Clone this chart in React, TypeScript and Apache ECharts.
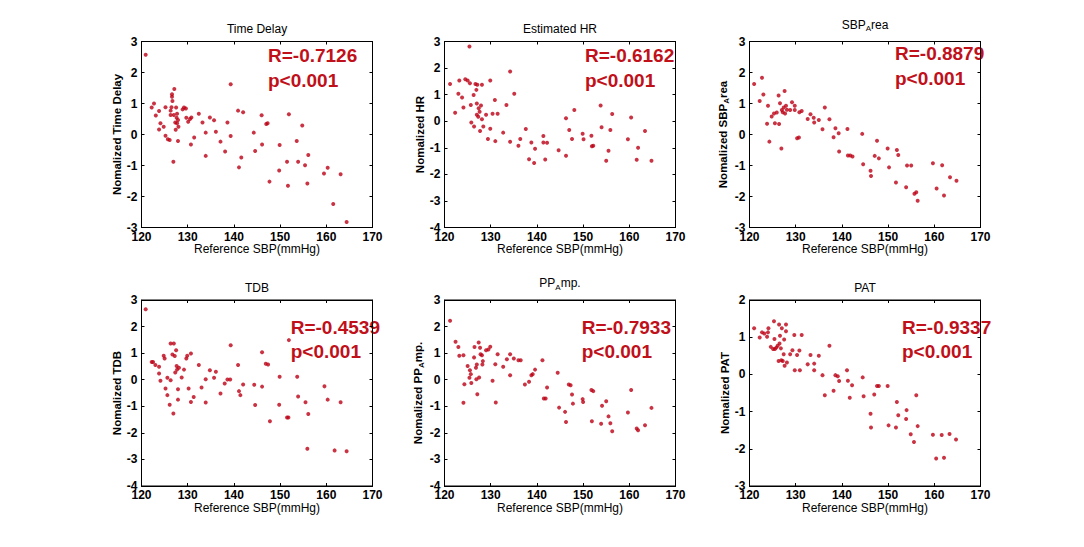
import React, { useEffect, useRef } from 'react';
import * as echarts from 'echarts';

const FONT = '"Liberation Sans", Arial, Helvetica, sans-serif';
const MARK = '#bb0014';
const RED_TEXT = '#c0101a';

const xMin = 120;
const xMax = 170;
const xStep = 10;

const titles = [
  '{n|Time Delay}',
  '{n|Estimated HR}',
  '{n|SBP}{s|A}{n|rea}',
  '{n|TDB}',
  '{n|PP}{s|A}{n|mp.}',
  '{n|PAT}',
];
const yNames = [
  '{n|Nomalized Time Delay}',
  '{n|Nomalized HR}',
  '{n|Nomalized SBP}{s|A}{n|rea}',
  '{n|Nomalized TDB}',
  '{n|Nomalized PP}{s|A}{n|mp.}',
  '{n|Nomalized PAT}',
];
const yMins = [-3, -4, -3, -4, -4, -3];
const yMaxs = [3, 3, 3, 3, 3, 2];
const rTexts = ['R=-0.7126', 'R=-0.6162', 'R=-0.8879', 'R=-0.4539', 'R=-0.7933', 'R=-0.9337'];
const pTexts = ['p<0.001', 'p<0.001', 'p<0.001', 'p<0.001', 'p<0.001', 'p<0.001'];

const timeDelay: [number, number][] = [
  [120.9, 2.57], [122.2, 0.87], [122.7, 1.0], [123.1, 0.61], [123.8, 0.76], [123.8, 0.16], [124.1, 0.36],
  [124.8, 0.25], [125.2, 0.88], [125.2, -0.04], [125.7, -0.15], [126.1, -0.18], [126.3, 0.77], [126.3, 0.63],
  [126.5, 0.88], [126.6, 1.22], [126.6, 1.3], [126.7, 1.08], [126.9, -0.88], [127.0, 0.63], [127.1, 1.47],
  [127.3, 0.39], [127.4, 0.15], [127.5, 0.87], [127.6, 0.54], [127.7, 0.36], [127.9, -0.21], [128.0, 0.25],
  [127.7, 0.67], [127.9, 0.47], [128.9, 0.81], [129.2, 0.87], [129.6, 0.84], [129.7, 0.54], [130.1, 0.41],
  [130.5, 0.5], [130.8, 0.55], [130.7, -0.32], [131.4, -0.1], [132.4, 0.67], [133.2, 0.39], [133.9, 0.06],
  [133.9, -0.69], [134.8, 0.55], [135.7, 0.46], [136.1, 0.09], [137.1, -0.23], [138.1, -0.55], [138.6, 0.39],
  [139.3, -0.05], [139.3, 1.62], [140.9, 0.77], [141.1, -1.06], [141.6, -0.74], [142.0, 0.72], [144.3, 0.06],
  [144.6, -0.53], [146.0, 0.62], [146.1, -0.32], [147.0, 0.34], [147.3, 0.36], [147.7, -1.52], [149.9, -0.34],
  [149.8, -1.16], [151.5, -0.88], [151.7, -1.65], [151.9, 0.65], [153.6, -0.21], [153.9, -0.88], [154.8, 0.29],
  [155.4, -0.99], [155.9, -1.58], [156.1, -0.66], [159.5, -1.26], [160.3, -1.07], [161.5, -2.24], [163.1, -1.28],
  [164.4, -2.82],
];

const estimatedHR: [number, number][] = [
  [121.2, 1.4], [122.3, 0.32], [123.0, 1.03], [123.2, 1.53], [123.8, 0.89], [124.1, 0.52], [124.5, 1.58],
  [125.0, 1.53], [125.4, 2.81], [125.5, 1.43], [125.7, 0.61], [125.8, -0.05], [126.3, 0.99], [126.4, -0.2],
  [126.7, 1.4], [126.9, 1.18], [127.0, 0.67], [127.0, 0.24], [127.3, 0.17], [127.4, 0.49], [127.6, 0.36],
  [127.7, -0.37], [127.9, 0.59], [128.1, 1.37], [128.1, 0.07], [127.1, 1.37], [128.4, -0.2], [129.0, 0.24],
  [129.4, -0.67], [129.9, -0.28], [129.9, 1.53], [130.4, 0.28], [130.9, 0.8], [131.0, -0.75], [131.5, 0.28],
  [132.7, -0.43], [133.4, 0.61], [134.2, -0.77], [134.2, 1.87], [135.1, 1.03], [136.0, -0.92], [136.4, -0.67],
  [137.6, -0.29], [138.3, -1.43], [138.8, -0.8], [139.4, -1.57], [139.6, -1.04], [141.4, -0.56], [141.4, -0.8],
  [141.8, -1.44], [142.2, -0.81], [144.7, -1.09], [146.3, 0.11], [146.3, -1.3], [147.0, -0.33], [147.6, -0.67],
  [148.1, 0.42], [149.9, -0.47], [150.1, -0.68], [151.8, -0.55], [151.9, -0.94], [152.2, -0.92], [153.8, 0.59],
  [154.0, -0.23], [155.0, -1.49], [155.5, -1.11], [155.9, -0.33], [156.3, 0.27], [159.7, -0.68], [160.4, 0.14],
  [161.6, -1.45], [161.9, -1.0], [163.4, -0.37], [164.8, -1.49],
];

const sbpArea: [number, number][] = [
  [121.0, 1.63], [122.2, 1.08], [122.7, 1.83], [123.0, 1.29], [123.8, 0.35], [124.0, 0.93], [124.3, -0.23],
  [124.8, 0.58], [125.3, 0.68], [125.5, 0.36], [125.9, 0.71], [126.3, 1.26], [126.4, 0.34], [126.6, 1.01],
  [126.9, -0.45], [127.0, 0.79], [127.2, 0.72], [127.4, 0.87], [127.6, 1.4], [127.7, 0.68], [127.9, 0.93],
  [128.1, 0.8], [128.8, 0.79], [129.2, 1.04], [129.8, 0.93], [129.8, 0.79], [130.3, -0.12], [130.7, -0.1],
  [130.8, 0.72], [131.3, 0.76], [132.6, 0.5], [133.2, 0.65], [133.9, 0.54], [134.0, 0.39], [135.0, 0.47],
  [135.8, 0.17], [136.3, 0.87], [137.3, 0.49], [138.2, -0.09], [138.6, 0.2], [139.3, 0.04], [139.4, -0.55],
  [141.2, 0.18], [141.3, -0.68], [141.8, -0.68], [142.3, -0.71], [144.4, 0.02], [144.6, -0.96], [146.2, -1.17],
  [146.3, -1.34], [147.1, -0.69], [147.6, -0.2], [148.0, -0.77], [149.9, -0.45], [150.2, -1.06], [151.7, -1.55],
  [151.9, -0.5], [152.2, -0.66], [153.9, -1.7], [154.1, -1.0], [155.0, -1.0], [155.7, -1.91], [156.1, -1.86],
  [156.4, -2.14], [159.7, -0.93], [160.5, -1.74], [161.7, -0.99], [162.1, -1.97], [163.4, -1.38], [164.8, -1.49],
];

const tdb: [number, number][] = [
  [120.9, 2.65], [122.2, 0.67], [122.5, 0.67], [123.0, 0.55], [123.8, 0.49], [123.8, 0.23], [124.1, -0.04],
  [124.8, 0.9], [125.0, 0.8], [125.2, -0.33], [125.6, -0.58], [125.6, 0.07], [126.1, -0.94], [126.3, -0.02],
  [126.3, 1.36], [126.7, 0.95], [126.9, -1.27], [127.0, 1.36], [127.2, 0.89], [127.3, 0.27], [127.5, 1.11],
  [127.6, 0.52], [127.7, 0.38], [127.9, -0.36], [127.9, -0.75], [128.1, 0.45], [128.7, 0.08], [129.2, 0.38],
  [129.7, 0.8], [129.9, 0.9], [130.2, -0.33], [130.7, 0.99], [130.7, -0.84], [131.3, -0.65], [132.4, 0.55],
  [133.0, -0.29], [133.9, 0.02], [133.9, -0.86], [134.8, 0.36], [135.7, 0.07], [136.1, 0.3], [137.1, -0.52],
  [138.0, -0.14], [138.6, 0.01], [139.2, 0.01], [139.3, 1.3], [140.9, 0.55], [141.1, -0.43], [141.4, -0.58],
  [142.0, -0.18], [144.4, -0.19], [144.6, -0.95], [146.1, 1.03], [146.1, -0.26], [146.9, 0.6], [147.4, 0.57],
  [147.8, -1.56], [149.9, 0.11], [149.8, -0.94], [151.5, -1.42], [151.8, -1.42], [151.9, 1.49], [153.7, 0.11],
  [153.9, -0.63], [155.5, -0.85], [155.9, -2.6], [156.1, -1.29], [159.6, -0.25], [160.3, -0.75], [161.8, -2.66],
  [163.1, -0.85], [164.4, -2.69],
];

const ppAmp: [number, number][] = [
  [121.2, 2.22], [122.4, 1.43], [123.0, 1.23], [123.2, 0.9], [124.1, 0.92], [124.1, -0.87], [124.3, -0.17],
  [125.0, 0.52], [125.4, 0.07], [125.5, 0.36], [125.7, 0.21], [125.8, -0.12], [126.4, 0.84], [126.5, 1.23],
  [126.8, 0.45], [126.9, 0.02], [127.0, 0.57], [127.1, -0.55], [127.4, 1.4], [127.5, 0.08], [127.7, 1.2],
  [127.8, 0.96], [128.1, 0.92], [128.2, 0.57], [128.3, 0.7], [129.0, 1.11], [129.5, 1.14], [129.9, 1.24],
  [130.4, -0.04], [131.0, 0.58], [131.1, -0.86], [131.5, 0.96], [132.7, 0.49], [133.5, 0.77], [134.2, 0.96],
  [134.2, 0.17], [135.0, 0.8], [136.0, 0.73], [136.5, 0.73], [137.4, -0.18], [138.3, -0.08], [138.8, 0.17],
  [139.1, 0.21], [139.6, 0.38], [141.2, 0.73], [141.5, -0.71], [141.9, -0.71], [142.2, -0.29], [144.5, 0.26],
  [144.8, -1.05], [146.1, -1.21], [146.3, -1.59], [146.9, -0.18], [147.3, -0.21], [147.6, -0.56], [147.8, -0.9],
  [149.9, -0.73], [150.0, -0.84], [151.8, -0.39], [151.9, -1.56], [152.2, -0.43], [153.9, -1.66], [154.1, -0.98],
  [155.0, -0.81], [155.5, -1.38], [155.9, -1.64], [156.3, -1.94], [159.7, -1.23], [160.4, -0.39], [161.6, -1.84],
  [161.9, -1.9], [163.4, -1.71], [164.8, -1.06],
];

const pat: [number, number][] = [
  [121.0, 1.24], [122.2, 0.99], [122.7, 1.13], [123.2, 1.1], [123.8, 1.01], [124.0, 1.13], [124.1, 1.24],
  [124.6, 0.74], [125.1, 0.68], [125.3, 1.43], [125.4, 0.95], [125.5, 0.68], [125.8, 0.72], [126.1, 0.77],
  [126.3, 0.36], [126.4, 1.34], [126.5, 0.83], [126.6, 1.04], [126.8, 0.7], [126.9, 0.38], [127.0, 1.24],
  [127.2, 0.36], [127.4, 0.54], [127.5, 0.94], [127.6, 0.23], [127.9, 1.16], [127.9, 1.34], [128.1, 0.32],
  [128.8, 0.54], [129.3, 0.65], [129.7, 1.06], [129.8, 0.11], [130.3, 0.52], [130.8, 0.64], [130.9, 0.11],
  [131.3, 1.06], [132.6, 0.27], [133.2, 0.52], [134.0, 0.29], [134.0, 0.11], [135.0, 0.5], [135.8, -0.02],
  [136.3, -0.56], [137.3, 0.77], [138.2, -0.44], [138.6, -0.02], [139.1, -0.05], [139.4, -0.18], [141.1, 0.11],
  [141.3, -0.17], [141.7, -0.63], [142.2, -0.29], [144.5, -0.08], [144.7, -0.59], [146.2, -1.06], [146.3, -1.43],
  [147.0, -0.54], [147.6, -0.31], [148.0, -0.31], [149.9, -0.31], [150.1, -1.37], [151.7, -1.43], [151.9, -0.74],
  [152.2, -1.1], [153.9, -1.2], [154.0, -0.96], [154.9, -1.61], [155.6, -1.82], [156.1, -0.56], [156.4, -1.39],
  [159.7, -1.62], [160.4, -2.26], [161.6, -1.63], [162.1, -2.24], [163.3, -1.6], [164.7, -1.75],
];

const seriesData = [timeDelay, estimatedHR, sbpArea, tdb, ppAmp, pat];

// layout (pixels)
const colLeft = [141.5, 444.5, 749.5];
const rowTop = [41.5, 300];
const gridW = 231;
const gridH = 186;
const hasSub = [false, false, true, false, true, false];
const annX = [268, 585, 895, 290.7, 581.7, 902];
const annRY = [55.5, 55.5, 53, 327, 327, 327];
const annPY = [80, 80, 78.5, 351.5, 351.5, 351.5];

const richStyles = (size: number, weight: string) => ({
  n: { fontSize: size, fontWeight: weight, fontFamily: FONT, color: '#000', lineHeight: 16 },
  s: { fontSize: 8, fontWeight: weight, fontFamily: FONT, color: '#000', lineHeight: 8, verticalAlign: 'bottom' },
});

export default function App() {
  const ref = useRef<HTMLDivElement>(null);
  useEffect(() => {
    if (!ref.current) return;
    const chart = echarts.init(ref.current, undefined, { renderer: 'svg' });
    const grids: any[] = [];
    const xAxes: any[] = [];
    const yAxes: any[] = [];
    const series: any[] = [];
    const graphics: any[] = [];
    for (let i = 0; i < 6; i++) {
      const left = colLeft[i % 3];
      const top = rowTop[Math.floor(i / 3)];
      grids.push({ left, top, width: gridW, height: gridH, show: true, borderColor: '#000', borderWidth: 1, backgroundColor: '#fff', containLabel: false });
      const lineStyle = { color: '#000', width: 1 };
      xAxes.push({
        gridIndex: i, type: 'value', min: xMin, max: xMax, interval: xStep, position: 'bottom',
        axisLine: { show: true, onZero: false, lineStyle },
        axisTick: { show: true, inside: true, length: 3, lineStyle },
        axisLabel: { margin: 3, fontSize: 12, fontWeight: 'bold', color: '#000', fontFamily: FONT },
        splitLine: { show: false },
        name: 'Reference SBP(mmHg)', nameLocation: 'middle', nameGap: 15.5,
        nameTextStyle: { fontSize: 12, fontFamily: FONT, color: '#000' },
      });
      xAxes.push({
        gridIndex: i, type: 'value', min: xMin, max: xMax, interval: xStep, position: 'top',
        axisLine: { show: true, onZero: false, lineStyle },
        axisTick: { show: true, inside: true, length: 3, lineStyle },
        axisLabel: { show: false }, splitLine: { show: false },
      });
      yAxes.push({
        gridIndex: i, type: 'value', min: yMins[i], max: yMaxs[i], interval: 1, position: 'left',
        axisLine: { show: true, onZero: false, lineStyle },
        axisTick: { show: true, inside: true, length: 3, lineStyle },
        axisLabel: { margin: 4, fontSize: 12, fontWeight: 'bold', color: '#000', fontFamily: FONT },
        splitLine: { show: false },
        name: yNames[i], nameLocation: 'middle', nameRotate: 90, nameGap: hasSub[i] ? 19 : 16,
        nameTextStyle: { rich: richStyles(11.5, 'bold') },
      });
      yAxes.push({
        gridIndex: i, type: 'value', min: yMins[i], max: yMaxs[i], interval: 1, position: 'right',
        axisLine: { show: true, onZero: false, lineStyle },
        axisTick: { show: true, inside: true, length: 3, lineStyle },
        axisLabel: { show: false }, splitLine: { show: false },
      });
      series.push({
        type: 'scatter', xAxisIndex: i * 2, yAxisIndex: i * 2, data: seriesData[i],
        symbol: 'circle', symbolSize: 4, itemStyle: { color: MARK },
      });
      graphics.push({
        type: 'text', x: left + gridW / 2, y: top - (hasSub[i] ? 17 : 12.5),
        style: { text: titles[i], rich: richStyles(12, 'normal'), align: 'center', verticalAlign: 'middle' },
      });
      graphics.push({
        type: 'text', x: annX[i], y: annRY[i],
        style: { text: rTexts[i], fill: RED_TEXT, fontSize: 19, fontWeight: 'bold', fontFamily: FONT, align: 'left', verticalAlign: 'middle' },
      });
      graphics.push({
        type: 'text', x: annX[i], y: annPY[i],
        style: { text: pTexts[i], fill: RED_TEXT, fontSize: 19, fontWeight: 'bold', fontFamily: FONT, align: 'left', verticalAlign: 'middle' },
      });
    }
    chart.setOption({
      animation: false,
      backgroundColor: '#fff',
      grid: grids,
      xAxis: xAxes,
      yAxis: yAxes,
      series,
      graphic: graphics,
    });
    return () => chart.dispose();
  }, []);
  return <div ref={ref} style={{ position: 'absolute', left: 0, top: 0, width: 1084, height: 547, background: '#fff' }} />;
}
